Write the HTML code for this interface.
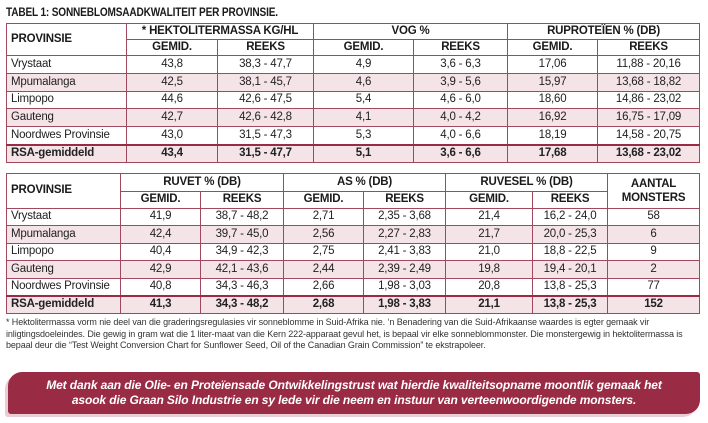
<!DOCTYPE html>
<html><head><meta charset="utf-8"><style>
body{margin:0;width:708px;height:423px;background:#fff;position:relative;overflow:hidden;font-family:"Liberation Sans Narrow","Liberation Sans",sans-serif;color:#222}
.title{position:absolute;left:6px;top:5px;font-size:12px;font-weight:bold;letter-spacing:-0.2px;color:#1a1a1a;transform:scaleX(0.84);transform-origin:left top;white-space:nowrap}
table{position:absolute;left:6px;border-collapse:collapse;table-layout:fixed;font-size:11.5px;letter-spacing:-0.2px}
td{border:1px solid #a0485e;padding:0;text-align:center;white-space:nowrap;overflow:hidden;line-height:1}
td.l{text-align:left;padding-left:4px}
tr.h td{font-weight:bold;color:#1a1a1a}
tr.p td{background:#f4e3e7}
tr.b td{font-weight:bold;border-top:2px solid #9a2b45}
table{border:1.5px solid #9a2b45}
.foot{position:absolute;left:6px;top:317px;width:700px;font-size:9px;line-height:11.5px;color:#333;letter-spacing:-0.1px}
.ban{position:absolute;left:8px;top:372px;width:692px;height:42px;background:#9a2b45;border-radius:14px 3px 14px 3px;box-shadow:-3px 3px 0 #e9cdd4;color:#fff;font-family:"Liberation Sans",sans-serif;font-style:italic;font-weight:bold;font-size:12px;text-align:center;line-height:15px;padding-top:6px;box-sizing:border-box;letter-spacing:-0.1px}
</style></head><body>
<div class="title">TABEL 1: SONNEBLOMSAADKWALITEIT PER PROVINSIE.</div>
<table style="top:23px;width:693px">
<colgroup><col style="width:120px"><col style="width:91px"><col style="width:96px"><col style="width:100px"><col style="width:94px"><col style="width:90px"><col style="width:102px"></colgroup>
<tr class="h" style="height:16px"><td class="l" rowspan="2">PROVINSIE</td><td colspan="2">* HEKTOLITERMASSA KG/HL</td><td colspan="2">VOG %</td><td colspan="2">RUPROTEÏEN % (DB)</td></tr>
<tr class="h" style="height:16px"><td>GEMID.</td><td>REEKS</td><td>GEMID.</td><td>REEKS</td><td>GEMID.</td><td>REEKS</td></tr>
<tr style="height:18px"><td class="l">Vrystaat</td><td>43,8</td><td>38,3 - 47,7</td><td>4,9</td><td>3,6 - 6,3</td><td>17,06</td><td>11,88 - 20,16</td></tr>
<tr class="p" style="height:18px"><td class="l">Mpumalanga</td><td>42,5</td><td>38,1 - 45,7</td><td>4,6</td><td>3,9 - 5,6</td><td>15,97</td><td>13,68 - 18,82</td></tr>
<tr style="height:17px"><td class="l">Limpopo</td><td>44,6</td><td>42,6 - 47,5</td><td>5,4</td><td>4,6 - 6,0</td><td>18,60</td><td>14,86 - 23,02</td></tr>
<tr class="p" style="height:18px"><td class="l">Gauteng</td><td>42,7</td><td>42,6 - 42,8</td><td>4,1</td><td>4,0 - 4,2</td><td>16,92</td><td>16,75 - 17,09</td></tr>
<tr style="height:18px"><td class="l">Noordwes Provinsie</td><td>43,0</td><td>31,5 - 47,3</td><td>5,3</td><td>4,0 - 6,6</td><td>18,19</td><td>14,58 - 20,75</td></tr>
<tr class="p b" style="height:18px"><td class="l">RSA-gemiddeld</td><td>43,4</td><td>31,5 - 47,7</td><td>5,1</td><td>3,6 - 6,6</td><td>17,68</td><td>13,68 - 23,02</td></tr>
</table>
<table style="top:173px;width:693px">
<colgroup><col style="width:114px"><col style="width:80px"><col style="width:83px"><col style="width:80px"><col style="width:82px"><col style="width:87px"><col style="width:75px"><col style="width:92px"></colgroup>
<tr class="h" style="height:18px"><td class="l" rowspan="2">PROVINSIE</td><td colspan="2">RUVET % (DB)</td><td colspan="2">AS % (DB)</td><td colspan="2">RUVESEL % (DB)</td><td rowspan="2" style="line-height:14px">AANTAL<br>MONSTERS</td></tr>
<tr class="h" style="height:17px"><td>GEMID.</td><td>REEKS</td><td>GEMID.</td><td>REEKS</td><td>GEMID.</td><td>REEKS</td></tr>
<tr style="height:17px"><td class="l">Vrystaat</td><td>41,9</td><td>38,7 - 48,2</td><td>2,71</td><td>2,35 - 3,68</td><td>21,4</td><td>16,2 - 24,0</td><td>58</td></tr>
<tr class="p" style="height:18px"><td class="l">Mpumalanga</td><td>42,4</td><td>39,7 - 45,0</td><td>2,56</td><td>2,27 - 2,83</td><td>21,7</td><td>20,0 - 25,3</td><td>6</td></tr>
<tr style="height:17px"><td class="l">Limpopo</td><td>40,4</td><td>34,9 - 42,3</td><td>2,75</td><td>2,41 - 3,83</td><td>21,0</td><td>18,8 - 22,5</td><td>9</td></tr>
<tr class="p" style="height:18px"><td class="l">Gauteng</td><td>42,9</td><td>42,1 - 43,6</td><td>2,44</td><td>2,39 - 2,49</td><td>19,8</td><td>19,4 - 20,1</td><td>2</td></tr>
<tr style="height:17px"><td class="l">Noordwes Provinsie</td><td>40,8</td><td>34,3 - 46,3</td><td>2,66</td><td>1,98 - 3,03</td><td>20,8</td><td>13,8 - 25,3</td><td>77</td></tr>
<tr class="p b" style="height:18px"><td class="l">RSA-gemiddeld</td><td>41,3</td><td>34,3 - 48,2</td><td>2,68</td><td>1,98 - 3,83</td><td>21,1</td><td>13,8 - 25,3</td><td>152</td></tr>
</table>
<div class="foot">* Hektolitermassa vorm nie deel van die graderingsregulasies vir sonneblomme in Suid-Afrika nie. ‘n Benadering van die Suid-Afrikaanse waardes is egter gemaak vir inligtingsdoeleindes. Die gewig in gram wat die 1 liter-maat van die Kern 222-apparaat gevul het, is bepaal vir elke sonneblommonster. Die monstergewig in hektolitermassa is bepaal deur die “Test Weight Conversion Chart for Sunflower Seed, Oil of the Canadian Grain Commission” te ekstrapoleer.</div>
<div class="ban">Met dank aan die Olie- en Proteïensade Ontwikkelingstrust wat hierdie kwaliteitsopname moontlik gemaak het<br>asook die Graan Silo Industrie en sy lede vir die neem en instuur van verteenwoordigende monsters.</div>
</body></html>
